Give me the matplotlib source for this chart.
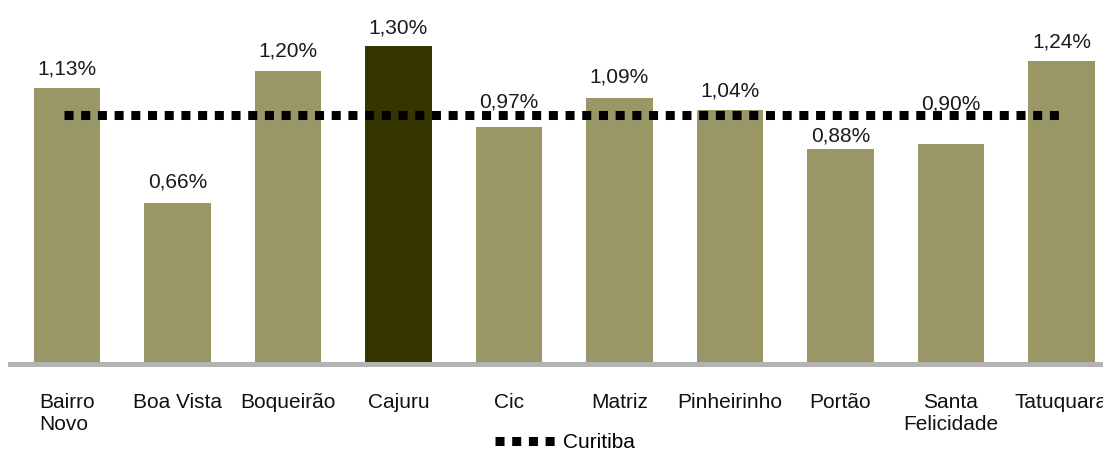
import matplotlib
matplotlib.use("Agg")
import matplotlib.pyplot as plt

categories = ["Bairro\nNovo", "Boa Vista", "Boqueirão", "Cajuru", "Cic", "Matriz",
              "Pinheirinho", "Portão", "Santa\nFelicidade", "Tatuquara"]
values = [1.13, 0.66, 1.20, 1.30, 0.97, 1.09, 1.04, 0.88, 0.90, 1.24]
value_labels = ["1,13%", "0,66%", "1,20%", "1,30%", "0,97%", "1,09%", "1,04%", "0,88%", "0,90%", "1,24%"]
curitiba = 1.02
legend_label = "Curitiba"

# styling
highlight = 3
bar_color = "#999766"
dark_color = "#363500"
label_offsets_px = [13, 15, 14, 13, 20, 15, 13, 8, 35, 14]

plt.rcParams['font.family'] = ['Liberation Sans', 'DejaVu Sans']

fig = plt.figure(figsize=(11.03, 4.5), dpi=100)
ax = fig.add_axes([10/1103, 86/450, 1093/1103, 364/450])

x = list(range(len(categories)))
colors = [dark_color if i == highlight else bar_color for i in x]
ax.bar(x, values, width=0.6, color=colors, zorder=2)

ax.axhline(0, color="#b3b3b3", lw=3.6, zorder=3, clip_on=False)

line, = ax.plot([x[0] - 0.03, x[-1] + 0.03], [curitiba, curitiba], color="black", lw=6.5,
                linestyle=(0, (1.0, 0.85)), dash_capstyle='butt', zorder=4,
                label=legend_label)

for xi, v, lab, off in zip(x, values, value_labels, label_offsets_px):
    ax.annotate(lab, (xi, v), xytext=(0, off), textcoords='offset pixels',
                ha='center', va='baseline', fontsize=15, color="#1a1a1a", zorder=5)

ax.set_xlim(-0.516, 9.376)
ax.set_ylim(0, 1.49)
ax.set_xticks(x)
ax.set_xticklabels(categories, fontsize=15, color="#111111")
ax.tick_params(axis='x', length=0, pad=21)
ax.set_yticks([])
tl = ax.get_xticklabels()
tl[0].set_multialignment('left')
for s in ax.spines.values():
    s.set_visible(False)

fig.legend(handles=[line], labels=[legend_label], loc='center',
           bbox_to_anchor=(565/1103, 1 - 443/450), frameon=False, fontsize=15,
           handlelength=2.9, handletextpad=0.4, borderpad=0)

fig.savefig("out.png", dpi=100)
